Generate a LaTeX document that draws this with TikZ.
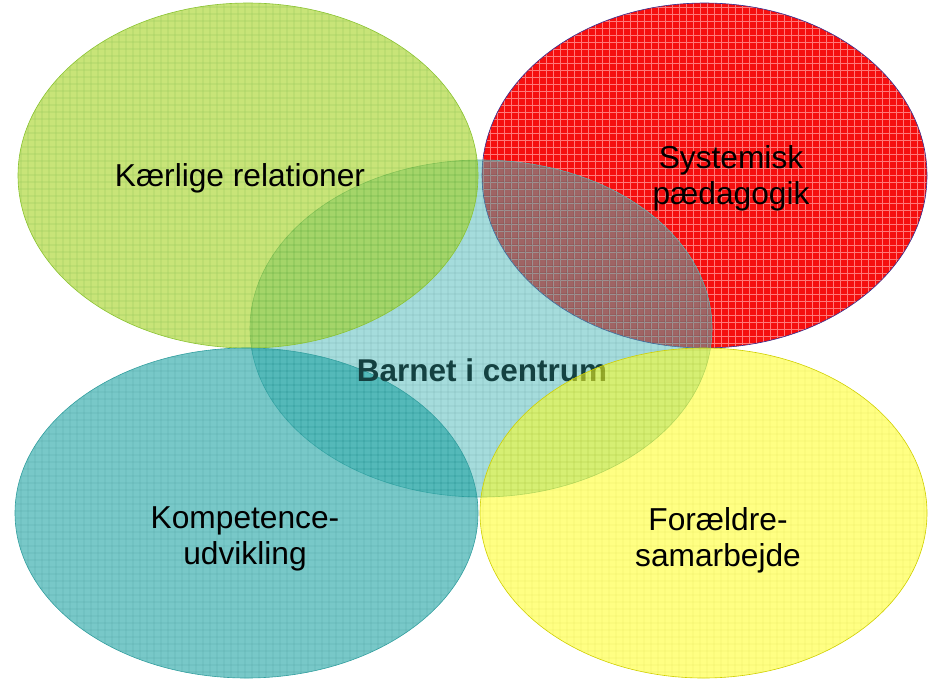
\documentclass[tikz,border=0pt]{standalone}
\usepackage{fontspec}
\setmainfont{Liberation Sans}
\usepackage{tikz}

\definecolor{leafgreen}{RGB}{163,210,30}
\definecolor{leafgrid}{RGB}{110,180,0}
\definecolor{hotred}{RGB}{245,15,15}
\definecolor{hotgrid}{RGB}{255,120,120}
\definecolor{redrim}{RGB}{50,50,150}
\definecolor{midteal}{RGB}{75,185,185}
\definecolor{midgrid}{RGB}{30,140,140}
\definecolor{seateal}{RGB}{30,163,163}
\definecolor{seagrid}{RGB}{0,135,135}
\definecolor{sunyellow}{RGB}{255,255,30}
\definecolor{sungrid}{RGB}{235,235,0}
\definecolor{centretext}{RGB}{20,65,65}

\begin{document}
\begin{tikzpicture}[x=1pt,y=-1pt,
  blobtext/.style={font=\fontsize{31.7}{36}\selectfont, align=center, text=black}]

\useasboundingbox (0,0) rectangle (929,681);

% red: Systemisk paedagogik
\begin{scope}
\fill[hotred] (704.5,175.5) ellipse[x radius=222.5, y radius=172.5];
\clip (704.5,175.5) ellipse[x radius=222.5, y radius=172.5];
\draw[hotgrid, line width=0.9pt, step=7pt] (480,0) grid (930,350);
\end{scope}
\draw[redrim, line width=0.6pt] (704.5,175.5) ellipse[x radius=222.5, y radius=172.5];

% centre
\begin{scope}[transparency group, opacity=0.5]
\fill[midteal] (481,328.5) ellipse[x radius=231, y radius=168.5];
\clip (481,328.5) ellipse[x radius=231, y radius=168.5];
\draw[midgrid, line width=0.9pt, step=7pt] (248,158) grid (714,500);
\end{scope}
\draw[midgrid!70, line width=0.6pt] (481,328.5) ellipse[x radius=231, y radius=168.5];

% green: Kaerlige relationer
\begin{scope}[transparency group, opacity=0.6]
\fill[leafgreen] (248,175.5) ellipse[x radius=230, y radius=172.5];
\clip (248,175.5) ellipse[x radius=230, y radius=172.5];
\draw[leafgrid, line width=0.9pt, step=7pt] (14,0) grid (480,350);
\end{scope}
\draw[leafgrid!80, line width=0.6pt] (248,175.5) ellipse[x radius=230, y radius=172.5];

% teal: Kompetenceudvikling
\begin{scope}[transparency group, opacity=0.6]
\fill[seateal] (246.5,513) ellipse[x radius=231.5, y radius=165];
\clip (246.5,513) ellipse[x radius=231.5, y radius=165];
\draw[seagrid, line width=0.9pt, step=7pt] (14,345) grid (480,681);
\end{scope}
\draw[seagrid!80, line width=0.6pt] (246.5,513) ellipse[x radius=231.5, y radius=165];

\node[blobtext, text=centretext, font=\fontsize{31.5}{36}\selectfont\bfseries] (centrum) at (482,370) {Barnet i centrum};

% yellow: Foraeldresamarbejde
\begin{scope}[transparency group, opacity=0.55]
\fill[sunyellow] (703.5,513) ellipse[x radius=223.5, y radius=165];
\clip (703.5,513) ellipse[x radius=223.5, y radius=165];
\draw[sungrid, line width=0.9pt, step=7pt] (476,345) grid (930,681);
\end{scope}
\draw[sungrid!80!black!60!sungrid, line width=0.6pt] (703.5,513) ellipse[x radius=223.5, y radius=165];

\node[blobtext] (relationer) at (240,178) {Kærlige relationer};
\node[blobtext] (systemisk) at (731,178) {Systemisk\\pædagogik};
\node[blobtext] (kompetence) at (245,539) {Kompetence-\\udvikling};
\node[blobtext] (foraeldre) at (718,540) {Forældre-\\samarbejde};

\end{tikzpicture}
\end{document}
